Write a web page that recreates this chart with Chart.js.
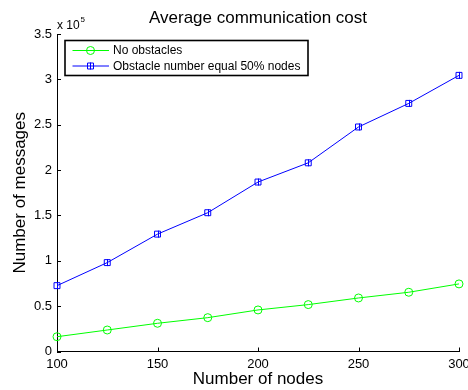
<!DOCTYPE html>
<html>
<head>
<meta charset="utf-8">
<script src="https://cdn.jsdelivr.net/npm/chart.js@4.4.1/dist/chart.umd.min.js"></script>
<style>
  html, body { margin: 0; padding: 0; background: #fff; }
  #wrap { width: 468px; height: 390px; }
</style>
</head>
<body>
<div id="wrap"><canvas id="grafico" width="468" height="390"></canvas></div>
<script>
const nodes = [100, 125, 150, 175, 200, 225, 250, 275, 300];
const noObstacles = [16300, 23700, 31100, 37300, 45800, 51700, 59000, 65300, 74500];
const obstacles50 = [72600, 98000, 129400, 153000, 186800, 208000, 247500, 273500, 304400];
const seriesNames = ['No obstacles', 'Obstacle number equal 50% nodes'];
const titleText = 'Average communication cost';
const xTitle = 'Number of nodes';
const yTitle = 'Number of messages';

const FONT = '"Liberation Sans", Arial, sans-serif';
Chart.defaults.font.family = FONT;
Chart.defaults.color = '#000';

const toPoints = vals => vals.map((v, i) => ({ x: nodes[i], y: v }));

// MATLAB-style extras: title, exponent, inward ticks, error bars, legend box
const extras = {
    id: 'extras',
    afterDatasetsDraw(chart) {
        const ctx = chart.ctx;
        const area = chart.chartArea;
        const xs = chart.scales.x, ys = chart.scales.y;
        ctx.save();

        // small vertical error bars on the blue series
        const meta = chart.getDatasetMeta(1);
        ctx.strokeStyle = '#0000ff';
        ctx.lineWidth = 1;
        meta.data.forEach(p => {
            ctx.beginPath();
            ctx.moveTo(Math.round(p.x) + 0.5, p.y - 3.5);
            ctx.lineTo(Math.round(p.x) + 0.5, p.y + 3.5);
            ctx.stroke();
        });

        // inward ticks
        ctx.strokeStyle = '#000';
        ys.ticks.forEach(t => {
            const y = Math.round(ys.getPixelForValue(t.value)) + 0.5;
            ctx.beginPath();
            ctx.moveTo(area.left, y);
            ctx.lineTo(area.left + 4, y);
            ctx.stroke();
        });
        xs.ticks.forEach(t => {
            const x = Math.round(xs.getPixelForValue(t.value)) + 0.5;
            ctx.beginPath();
            ctx.moveTo(x, area.bottom);
            ctx.lineTo(x, area.bottom - 4);
            ctx.stroke();
        });

        // title
        ctx.fillStyle = '#000';
        ctx.font = '17px ' + FONT;
        ctx.textAlign = 'center';
        ctx.textBaseline = 'alphabetic';
        ctx.fillText(titleText, (area.left + area.right) / 2, 23);

        // exponent label
        ctx.textAlign = 'left';
        ctx.font = '12px ' + FONT;
        ctx.fillText('x 10', area.left, 28.5);
        ctx.font = '8px ' + FONT;
        ctx.fillText('5', area.left + 23.5, 22);

        // legend box
        const bx = 65, by = 40.5, bw = 243, bh = 35;
        ctx.fillStyle = '#fff';
        ctx.fillRect(bx, by, bw, bh);
        ctx.strokeStyle = '#000';
        ctx.lineWidth = 1.6;
        ctx.strokeRect(bx, by, bw, bh);
        ctx.lineWidth = 1;
        ctx.font = '12px ' + FONT;
        ctx.textBaseline = 'middle';
        chart.data.datasets.forEach((ds, i) => {
            const y = 50.5 + i * 15.5;
            ctx.strokeStyle = ds.borderColor;
            ctx.beginPath();
            ctx.moveTo(72.5, y);
            ctx.lineTo(109, y);
            ctx.stroke();
            ctx.beginPath();
            if (ds.pointStyle === 'circle') {
                ctx.arc(90.5, y, 4, 0, Math.PI * 2);
            } else {
                ctx.rect(87.5, y - 3, 6, 6);
                ctx.moveTo(90.5, y - 3.5);
                ctx.lineTo(90.5, y + 3.5);
            }
            ctx.stroke();
            ctx.fillStyle = '#000';
            ctx.fillText(ds.label, 113, y + 0.5);
        });
        ctx.restore();
    }
};

const axisGrid = { display: true, drawOnChartArea: false, drawTicks: false };

const ctx = document.getElementById('grafico').getContext('2d');
new Chart(ctx, {
    type: 'line',
    data: {
        datasets: [{
            label: seriesNames[0],
            data: toPoints(noObstacles),
            borderColor: '#00ff00',
            backgroundColor: 'transparent',
            borderWidth: 1,
            pointStyle: 'circle',
            pointRadius: 4,
            pointBorderWidth: 1,
            pointBackgroundColor: 'transparent',
            pointBorderColor: '#00ff00',
            clip: false
        }, {
            label: seriesNames[1],
            data: toPoints(obstacles50),
            borderColor: '#0000ff',
            backgroundColor: 'transparent',
            borderWidth: 1,
            pointStyle: 'rect',
            pointRadius: 4.2,
            pointBorderWidth: 1,
            pointBackgroundColor: 'transparent',
            pointBorderColor: '#0000ff',
            clip: false
        }]
    },
    options: {
        responsive: false,
        animation: false,
        layout: { padding: { top: 34, right: 9, left: 0, bottom: 0 } },
        plugins: {
            legend: { display: false },
            title: { display: false },
            tooltip: { enabled: false }
        },
        scales: {
            x: {
                type: 'linear',
                min: 100,
                max: 300,
                grid: axisGrid,
                border: { display: true, color: '#000', width: 1 },
                ticks: { stepSize: 50, padding: 5, font: { size: 13 }, maxRotation: 0 },
                title: { display: true, text: xTitle, font: { size: 17 }, padding: { top: 0, bottom: 0 } },
                afterFit(scale) {
                    scale.height = 38.5;
                    scale.paddingLeft = 0;
                    scale.paddingRight = 0;
                }
            },
            y: {
                min: 0,
                max: 350000,
                grid: axisGrid,
                border: { display: true, color: '#000', width: 1 },
                ticks: {
                    stepSize: 50000,
                    padding: 5,
                    font: { size: 13 },
                    callback: v => String(v / 100000)
                },
                title: { display: true, text: yTitle, font: { size: 17 }, padding: { top: 10, bottom: 0 } },
                afterFit(scale) {
                    scale.width = 57;
                    scale.paddingTop = 0;
                    scale.paddingBottom = 0;
                }
            }
        }
    },
    plugins: [extras]
});
</script>
</body>
</html>
